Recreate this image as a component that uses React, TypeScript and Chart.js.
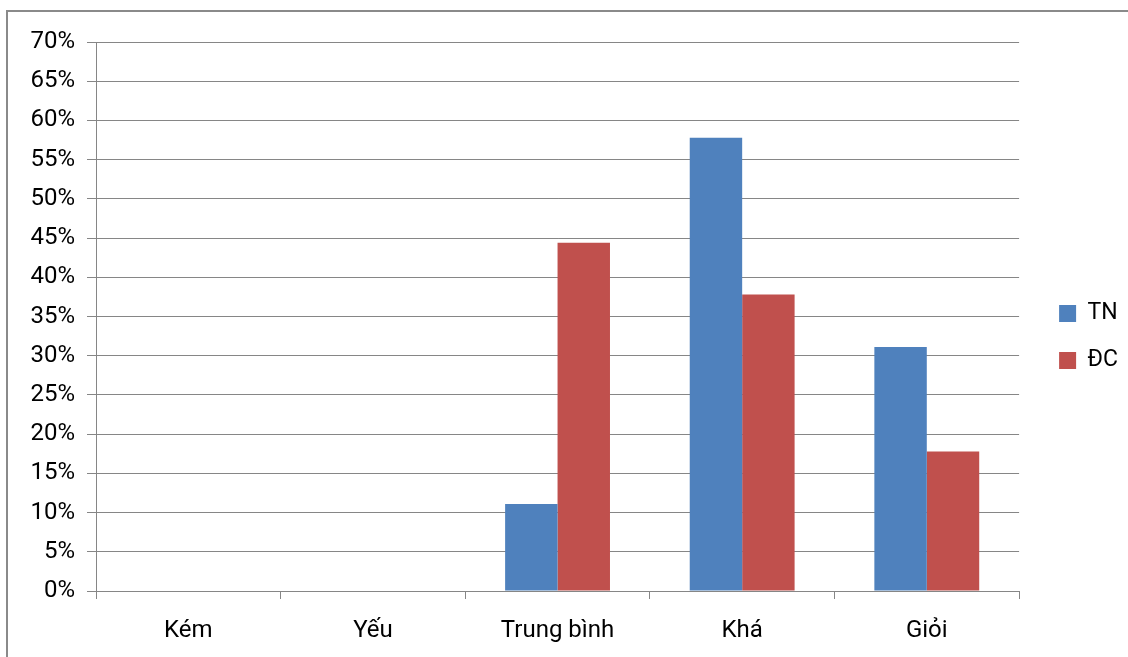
import React, { useEffect, useRef } from "react";
import { Chart, registerables } from "chart.js";

Chart.register(...registerables);

const categories = ["Kém", "Yếu", "Trung bình", "Khá", "Giỏi"];
const seriesTN = [0, 0, 11.1, 57.8, 31.1];
const seriesDC = [0, 0, 44.4, 37.8, 17.8];
const seriesNames = ["TN", "ĐC"];
const yTickMax = 70;
const yTickStep = 5;

const FONT = "Roboto";
const GRID = "#868686";

// Empty axis used only to reserve space around the plot area
const spacer = (size: number, position: string) => ({
  position,
  display: true,
  grid: { display: false },
  border: { display: false },
  ticks: { display: false },
  afterFit: (s: any) => {
    if (position === "top") s.height = size;
    else s.width = size;
  },
});

export default function App() {
  const canvasRef = useRef<HTMLCanvasElement | null>(null);

  useEffect(() => {
    const canvas = canvasRef.current;
    if (!canvas) return;
    const chart = new Chart(canvas, {
      type: "bar",
      data: {
        labels: categories,
        datasets: [
          { label: seriesNames[0], data: seriesTN, backgroundColor: "#4F81BD" },
          { label: seriesNames[1], data: seriesDC, backgroundColor: "#C0504D" },
        ],
      },
      options: {
        responsive: false,
        animation: false,
        layout: { padding: { top: 17, left: 0, right: 0, bottom: 0 } },
        datasets: {
          bar: { categoryPercentage: 0.568, barPercentage: 1 },
        },
        plugins: {
          tooltip: { enabled: false },
          legend: {
            position: "right",
            align: "center",
            labels: {
              boxWidth: 17,
              boxHeight: 17,
              padding: 24,
              color: "#000",
              font: { family: FONT, size: 23, lineHeight: 1 },
            },
          },
        },
        scales: {
          x: {
            grid: {
              display: true,
              drawOnChartArea: false,
              drawTicks: true,
              tickLength: 8,
              color: GRID,
              offset: true,
            },
            border: { display: true, color: GRID },
            ticks: {
              color: "#000",
              padding: 18,
              font: { family: FONT, size: 24 },
              maxRotation: 0,
            },
            afterFit: (s: any) => {
              s.height = 66;
            },
          },
          y: {
            min: 0,
            max: yTickMax,
            grid: { color: GRID, tickLength: 9 },
            border: { display: true, color: GRID },
            ticks: {
              stepSize: yTickStep,
              color: "#000",
              padding: 12,
              font: { family: FONT, size: 24 },
              callback: (v: any) => `${v}%`,
            },
            afterFit: (s: any) => {
              s.width = 96;
            },
          },
          xTop: spacer(25, "top") as any,
          gap: spacer(16, "right") as any,
        },
      },
    });
    return () => chart.destroy();
  }, []);

  return (
    <div style={{ position: "fixed", left: 0, top: 0, width: 1128, height: 657, overflow: "hidden", background: "#fff" }}>
      <div
        style={{
          position: "absolute",
          left: 6,
          top: 10,
          width: 1200,
          height: 700,
          border: "2px solid #8a8a8a",
          boxSizing: "border-box",
        }}
      />
      <canvas ref={canvasRef} width={1128} height={657} style={{ position: "absolute", left: 0, top: 0 }} />
    </div>
  );
}
